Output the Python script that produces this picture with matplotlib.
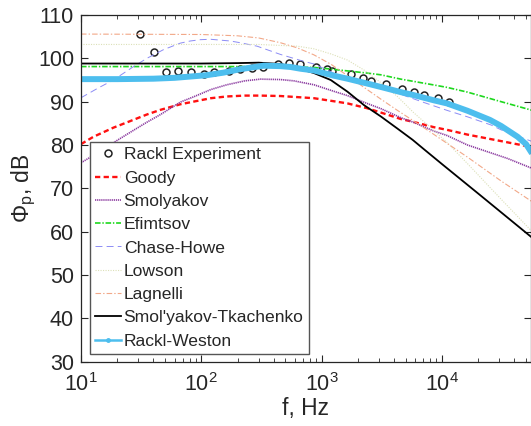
import matplotlib
matplotlib.use("Agg")
import matplotlib.pyplot as plt
from matplotlib.lines import Line2D
from matplotlib.ticker import LogLocator, NullFormatter, FixedLocator

plt.rcParams.update({
    "font.family": ["Liberation Sans", "DejaVu Sans"],
    "mathtext.fontset": "custom",
    "mathtext.rm": "Liberation Sans",
    "mathtext.it": "Liberation Sans:italic",
    "mathtext.default": "regular",
    "lines.scale_dashes": False,
    "text.color": "#262626",
    "axes.labelcolor": "#262626",
    "xtick.color": "#262626",
    "ytick.color": "#262626",
})

# ---- measured spectrum (Rackl experiment) ----
exp_f = [31, 40.6, 50.8, 63.5, 82.6, 106, 127, 169, 211, 262, 327, 433, 534, 659,
         891, 1116, 1211, 1745, 2226, 2560, 3460, 4640, 5810, 7120, 9210, 11500]
exp_db = [105.6, 101.4, 96.9, 97.1, 96.8, 96.4, 96.9, 97.1, 97.5, 97.8, 98.1, 98.7,
          98.85, 98.7, 98.1, 97.5, 97.1, 96.3, 95.4, 94.8, 94.0, 92.9, 92.3, 91.5,
          90.8, 90.0]

# ---- model predictions ----
goody_f = [10, 12.7, 18.6, 24, 35, 45.6, 67, 86, 120, 163, 230, 310, 455, 589, 863,
           1260, 1640, 2380, 3100, 4550, 5850, 8600, 11000, 16300, 31000, 56200]
goody_db = [80.2, 81.9, 84.0, 85.2, 87.0, 88.1, 89.4, 90.0, 90.8, 91.2, 91.4, 91.4,
            91.3, 91.1, 90.8, 90.1, 89.6, 88.5, 87.5, 86.0, 85.3, 84.1, 83.5, 82.4,
            80.9, 79.5]

smol_f = [10, 14, 19.8, 27, 35, 45.6, 67, 86, 120, 163, 230, 310, 455, 589, 863,
          1260, 1640, 2380, 3100, 4550, 5850, 8600, 11000, 16300, 35000, 56200]
smol_db = [75.9, 78.3, 81.0, 83.3, 85.2, 87.0, 89.9, 91.1, 92.8, 93.9, 94.8, 95.2,
           95.1, 94.8, 93.9, 92.4, 91.4, 89.6, 88.4, 86.3, 85.2, 83.2, 82.2, 80.0,
           76.9, 74.6]

efim_f = [10, 100, 300, 500, 863, 1120, 1640, 2380, 3100, 4550, 8000, 11000, 16300,
          31000, 56200]
efim_db = [98.1, 98.1, 98.1, 98.0, 97.9, 97.6, 97.1, 96.6, 96.2, 95.2, 94.0, 93.3,
           92.2, 90.0, 88.0]

ch_f = [10, 14, 18.6, 27, 35.3, 48.5, 66.8, 81, 98, 119, 174, 211, 291, 455, 710,
        863, 1260, 1640, 2380, 3100, 4550, 7100, 11000, 16300, 25700, 31000, 56200]
ch_db = [90.9, 93.2, 95.0, 98.0, 100.0, 102.0, 103.5, 104.0, 104.3, 104.4, 104.0,
         103.6, 102.8, 100.9, 99.3, 98.7, 96.6, 95.3, 94.0, 93.3, 91.7, 89.8, 88.0,
         86.5, 84.6, 83.5, 80.8]

lowson_f = [10, 100, 300, 630, 863, 1200, 1640, 2250, 3100, 4260, 5850, 8000, 11000,
            16300, 31000, 56200]
lowson_db = [103.2, 103.2, 103.2, 102.8, 102.2, 101.0, 99.6, 97.3, 94.4, 91.2, 87.4,
             84.1, 80.6, 75.7, 67.5, 60.0]

lag_f = [10, 100, 200, 300, 455, 630, 863, 1200, 1640, 2250, 3100, 4260, 5850, 8000,
         11000, 16300, 31000, 56200]
lag_db = [105.6, 105.5, 105.2, 104.7, 103.6, 102.4, 100.8, 98.6, 96.0, 93.3, 90.6,
          88.0, 85.5, 83.0, 80.4, 77.2, 71.7, 66.9]

st_f = [10, 100, 200, 300, 455, 600, 863, 1190, 1640, 2250, 3100, 4260, 5700, 7100,
        10000, 20000, 56200]
st_db = [98.8, 98.8, 98.9, 99.0, 98.7, 97.9, 96.6, 95.0, 92.3, 89.2, 86.6, 83.8,
         81.2, 79.0, 75.6, 68.8, 58.6]

rw_f = [10, 20, 40, 60, 81, 110, 153, 211, 330, 455, 552, 668, 863, 1260, 1640, 2380,
        3100, 4550, 5850, 8600, 11000, 16300, 25000, 31000, 42500, 50000, 56200]
rw_db = [95.2, 95.2, 95.3, 95.5, 95.8, 96.1, 96.7, 97.5, 98.3, 98.2, 98.0, 97.6, 97.2,
         96.0, 95.3, 94.2, 93.4, 92.2, 91.5, 90.3, 89.6, 87.9, 85.8, 84.4, 81.9, 80.2,
         78.0]

y_ticks = [30, 40, 50, 60, 70, 80, 90, 100, 110]

fig = plt.figure(figsize=(5.31, 4.26), dpi=100)
ax = fig.add_axes([0.1525, 0.151, 0.8475, 0.8138])

c_rw = "#4DBEEE"
ax.plot(exp_f, exp_db, linestyle="none", marker="o", ms=5, mfc="none", mec="#222222",
        mew=1.1, label="Rackl Experiment")
ax.plot(goody_f, goody_db, color="#FF1010", lw=1.7, dashes=(3.8, 2.4), label="Goody")
ax.plot(smol_f, smol_db, color="#8B3BA0", lw=1.2, dashes=(0.9, 0.6), label="Smolyakov")
ax.plot(efim_f, efim_db, color="#1ED81E", lw=1.2, dashes=(4.0, 1.3, 1.0, 1.3),
        label="Efimtsov")
ax.plot(ch_f, ch_db, color="#8C8CF5", lw=0.7, dashes=(5.0, 3.0), label="Chase-Howe")
ax.plot(lowson_f, lowson_db, color="#DCE0B8", lw=0.8, dashes=(0.8, 1.0), label="Lowson")
ax.plot(lag_f, lag_db, color="#F2A888", lw=0.8, dashes=(4.0, 1.5, 1.0, 1.5),
        label="Lagnelli")
ax.plot(st_f, st_db, color="black", lw=1.3, label="Smol'yakov-Tkachenko")
ax.plot(rw_f, rw_db, color=c_rw, lw=4.3, solid_capstyle="butt", label="Rackl-Weston")

ax.set_xscale("log")
ax.set_xlim(10, 10 ** 4.74)
ax.set_ylim(30, 110)
ax.yaxis.set_major_locator(FixedLocator(y_ticks))
ax.xaxis.set_major_locator(LogLocator(base=10, numticks=10))
ax.xaxis.set_minor_locator(LogLocator(base=10, subs=range(2, 10), numticks=20))
ax.xaxis.set_minor_formatter(NullFormatter())

ax.tick_params(which="both", direction="in", top=True, right=True, labelsize=15.5)
ax.tick_params(which="major", length=5, width=0.8)
ax.tick_params(which="minor", length=2.8, width=0.6)
ax.tick_params(axis="x", which="major", pad=8)
ax.tick_params(axis="y", which="major", pad=5)
for s in ax.spines.values():
    s.set_color("#262626")
    s.set_linewidth(0.9)

ax.set_xlabel("f, Hz", fontsize=16.5, labelpad=1)
ax.set_ylabel("Φ$_p$, dB", fontsize=16.5)
ax.yaxis.set_label_coords(-0.095, 0.5)

handles, labels = ax.get_legend_handles_labels()
handles[-1] = Line2D([], [], color=c_rw, lw=1.8, marker=".", ms=5)
leg = ax.legend(handles, labels, loc="lower left", bbox_to_anchor=(0.019, 0.022),
                borderaxespad=0, fontsize=12.6, labelspacing=0.46, handlelength=1.5,
                handletextpad=0.15, borderpad=0.3, fancybox=False, framealpha=1,
                edgecolor="#555555")
leg.get_frame().set_linewidth(1.0)

fig.savefig("out.png", dpi=100)
